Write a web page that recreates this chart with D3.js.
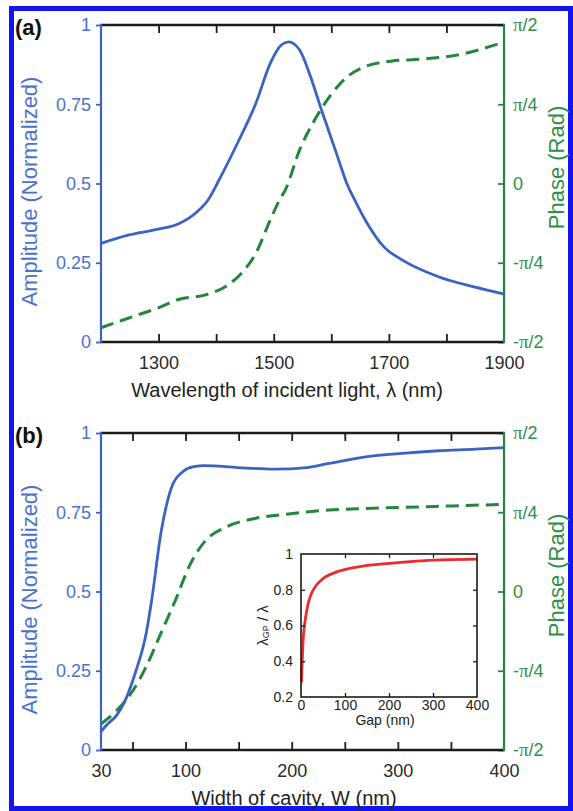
<!DOCTYPE html>
<html><head><meta charset="utf-8">
<script src="https://cdn.jsdelivr.net/npm/d3@7"></script>
<style>
html,body{margin:0;padding:0;background:#fff;}
svg{display:block;font-family:"Liberation Sans",Arial,Helvetica,sans-serif;}
</style></head>
<body>
<svg id="c" width="573" height="811"></svg>
<script>
// ---------- data ----------
// Panel (a): amplitude and phase (in units of pi) vs wavelength (nm)
const lambdaA = [1200,1247,1297,1336,1367,1386,1405,1437,1469,1494,1513,1526,1545,1564,1583,1609,1627,1643,1659,1691,1723,1786,1850,1900];
const ampA    = [0.311,0.337,0.355,0.374,0.411,0.448,0.511,0.627,0.753,0.879,0.937,0.947,0.921,0.837,0.732,0.595,0.50,0.44,0.385,0.301,0.259,0.206,0.173,0.151];
const lambdaPhA = [1200,1247,1297,1336,1380,1418,1444,1469,1494,1510,1520,1545,1571,1597,1628,1659,1704,1755,1818,1900];
const phaseA    = [-0.455,-0.425,-0.394,-0.365,-0.352,-0.323,-0.283,-0.22,-0.115,-0.052,-0.021,0.106,0.2,0.274,0.337,0.369,0.386,0.392,0.405,0.446];

// Panel (b): amplitude and phase (units of pi) vs cavity width W (nm)
const widthB = [30,33.6,40,44.8,52.5,62.9,68.1,76.7,87.1,97.3,107.7,118,149,183.4,214.5,235.2,269.7,304,338.6,373,400];
const ampB   = [0.058,0.079,0.11,0.15,0.242,0.368,0.473,0.683,0.831,0.878,0.894,0.897,0.891,0.886,0.891,0.904,0.925,0.936,0.944,0.949,0.954];
const widthPhB = [30,40.2,49.1,62.9,76.7,90.5,104.2,118.1,138.7,166.3,200.8,235.3,269.7,321.1,400];
const phaseB   = [-0.418,-0.374,-0.321,-0.237,-0.132,-0.027,0.085,0.158,0.204,0.231,0.246,0.257,0.262,0.267,0.275];

// Inset: lambda_GP / lambda vs gap (nm)
const gapInset   = [1,5,9,17,28,47,81,134,202,263,400];
const ratioInset = [0.28,0.525,0.62,0.73,0.80,0.856,0.90,0.93,0.948,0.96,0.971];

// ticks
const xTicksA  = [1300,1400,1500,1600,1700,1800];
const xLabelsA = [1300,1500,1700,1900];
const ampTicks = [0,0.25,0.5,0.75,1];
const ampLabels = ["0","0.25","0.5","0.75","1"];
const phTicks = [-0.5,-0.25,0,0.25,0.5];
const phLabels = ["-π/2","-π/4","0","π/4","π/2"];
const xTicksB  = [50,100,150,200,250,300,350];
const xLabelsB = [30,100,200,300,400];
const insetXTicks = [100,200,300];
const insetXLabels = [0,100,200,300,400];
const insetYTicks = [0.4,0.6,0.8];
const insetYLabels = [0.2,0.4,0.6,0.8,1];

// ---------- style ----------
const BLUE = "#3b63c3", BLUE_T = "#4a72cc", GREEN = "#23863c", GREEN_T = "#2f8f48", DARK = "#1e1a1a", RED = "#ee2a2a";
const FONT_T = 18;

const svg = d3.select("#c");
svg.append("rect").attr("x",0).attr("y",0).attr("width",573).attr("height",811).attr("fill","#fff");
svg.append("rect").attr("x",11.5).attr("y",8.5).attr("width",559).attr("height",800)
   .attr("fill","none").attr("stroke","#1414f0").attr("stroke-width",5);

function piLabels(sel, labels){
  sel.selectAll(".tick text").each(function(d,i){
    const t = d3.select(this); const s = labels[i]; t.text(null);
    const parts = s.split("π");
    parts.forEach((p,j)=>{
      if(j>0) t.append("tspan").attr("font-family","'Liberation Serif','Times New Roman',serif").attr("font-size",FONT_T+1).text("π");
      if(p) t.append("tspan").text(p);
    });
  });
}

function panel(o){
  const {L,R,T,B,xDomain,xRange,xTicks,xLabels,xFmt,ampX,ampY,phX,phY,tag,xTitle,xTitleX} = o;
  const g = svg.append("g");
  const x = d3.scaleLinear().domain(xDomain).range(xRange);
  const y = d3.scaleLinear().domain([0,1]).range([B,T]);
  const yp = d3.scaleLinear().domain([-0.5,0.5]).range([B,T]);

  // curves
  g.append("path").datum(phX.map((v,i)=>[v,phY[i]]))
    .attr("fill","none").attr("stroke",GREEN).attr("stroke-width",3).attr("stroke-dasharray","13,7")
    .attr("d", d3.line().x(d=>x(d[0])).y(d=>yp(d[1])).curve(d3.curveMonotoneX));
  g.append("path").datum(ampX.map((v,i)=>[v,ampY[i]]))
    .attr("fill","none").attr("stroke",BLUE).attr("stroke-width",2.8)
    .attr("d", d3.line().x(d=>x(d[0])).y(d=>y(d[1])).curve(d3.curveMonotoneX));

  // x ticks (inward) bottom & top
  const bt = g.append("g").attr("transform",`translate(0,${B})`)
    .call(d3.axisBottom(x).tickValues(xTicks).tickSize(-8).tickFormat(""));
  const tt = g.append("g").attr("transform",`translate(0,${T})`)
    .call(d3.axisTop(x).tickValues(xTicks).tickSize(-8).tickFormat(""));
  [bt,tt].forEach(a=>{a.select(".domain").remove(); a.selectAll("line").attr("stroke",DARK).attr("stroke-width",1.8);});
  // x labels
  const bl = g.append("g").attr("transform",`translate(0,${B})`)
    .call(d3.axisBottom(x).tickValues(xLabels).tickSize(0).tickPadding(14).tickFormat(xFmt));
  bl.select(".domain").remove();
  bl.selectAll("text").attr("font-size",FONT_T).attr("fill","#2a2a2a").attr("font-family","'Liberation Sans',Arial,sans-serif");

  // left axis
  const la = g.append("g").attr("transform",`translate(${L},0)`)
    .call(d3.axisLeft(y).tickValues(ampTicks).tickSize(5).tickPadding(5).tickFormat((d,i)=>ampLabels[i]));
  la.select(".domain").remove();
  la.selectAll("line").attr("stroke",BLUE).attr("stroke-width",1.8);
  la.selectAll("text").attr("font-size",FONT_T).attr("fill",BLUE_T).attr("font-family","'Liberation Sans',Arial,sans-serif");

  // right axis
  const ra = g.append("g").attr("transform",`translate(${R},0)`)
    .call(d3.axisRight(yp).tickValues(phTicks).tickSize(-6).tickPadding(9).tickFormat((d,i)=>phLabels[i]));
  ra.select(".domain").remove();
  ra.selectAll("line").attr("stroke",GREEN).attr("stroke-width",1.8);
  ra.selectAll("text").attr("font-size",FONT_T).attr("fill",GREEN_T).attr("font-family","'Liberation Sans',Arial,sans-serif");
  piLabels(ra, phLabels);

  // frame
  g.append("line").attr("x1",L).attr("x2",R).attr("y1",T).attr("y2",T).attr("stroke",DARK).attr("stroke-width",2.6);
  g.append("line").attr("x1",L).attr("x2",R).attr("y1",B).attr("y2",B).attr("stroke",DARK).attr("stroke-width",2.6);
  g.append("line").attr("x1",L).attr("x2",L).attr("y1",T-1.3).attr("y2",B+1.3).attr("stroke",BLUE).attr("stroke-width",2.2);
  g.append("line").attr("x1",R).attr("x2",R).attr("y1",T-1.3).attr("y2",B+1.3).attr("stroke",GREEN).attr("stroke-width",2.2);

  // titles
  const cy = (T+B)/2;
  g.append("text").attr("transform",`translate(29,${cy+8}) rotate(-90)`).attr("text-anchor","middle")
    .attr("dominant-baseline","central").attr("font-size",22).attr("fill",BLUE_T).text("Amplitude (Normalized)");
  g.append("text").attr("transform",`translate(556,${cy-16}) rotate(-90)`).attr("text-anchor","middle")
    .attr("dominant-baseline","central").attr("font-size",22).attr("fill",GREEN_T).text("Phase (Rad)");
  g.append("text").attr("x",xTitleX).attr("y",B+48).attr("text-anchor","middle").attr("dominant-baseline","central")
    .attr("font-size",20).attr("fill","#222").text(xTitle);
  g.append("text").attr("x",15).attr("y",T+2).attr("dominant-baseline","central")
    .attr("font-size",22).attr("font-weight","bold").attr("fill","#111").text(tag);
  return {x,y,yp};
}

panel({L:101,R:504,T:25,B:342,xDomain:[1200,1900],xRange:[101,504],xTicks:xTicksA,xLabels:xLabelsA,xFmt:d3.format("d"),
  ampX:lambdaA,ampY:ampA,phX:lambdaPhA,phY:phaseA,tag:"(a)",xTitle:"Wavelength of incident light, λ (nm)",xTitleX:287});

// panel (b): the printed W axis is compressed between its first two ticks (30 -> 50)
panel({L:101,R:504,T:433,B:750,xDomain:[30,50,400],xRange:[101,132.5,504],xTicks:xTicksB,xLabels:xLabelsB,xFmt:d3.format("d"),
  ampX:widthB,ampY:ampB,phX:widthPhB,phY:phaseB,tag:"(b)",xTitle:"Width of cavity, W (nm)",xTitleX:294});

// ---------- inset ----------
(function(){
  const L=301,R=477,T=554,B=697;
  const g = svg.append("g");
  const x = d3.scaleLinear().domain([0,400]).range([L,R]);
  const y = d3.scaleLinear().domain([0.2,1]).range([B,T]);
  g.append("rect").attr("x",L).attr("y",T).attr("width",R-L).attr("height",B-T).attr("fill","#fff");
  g.append("path").datum(gapInset.map((v,i)=>[v,ratioInset[i]]))
    .attr("fill","none").attr("stroke",RED).attr("stroke-width",2.8)
    .attr("d", d3.line().x(d=>x(d[0])).y(d=>y(d[1])).curve(d3.curveMonotoneX));
  const ax = [
    g.append("g").attr("transform",`translate(0,${B})`).call(d3.axisBottom(x).tickValues(insetXTicks).tickSize(-4).tickFormat("")),
    g.append("g").attr("transform",`translate(0,${T})`).call(d3.axisTop(x).tickValues(insetXTicks).tickSize(-4).tickFormat("")),
    g.append("g").attr("transform",`translate(${L},0)`).call(d3.axisLeft(y).tickValues(insetYTicks).tickSize(-4).tickFormat("")),
    g.append("g").attr("transform",`translate(${R},0)`).call(d3.axisRight(y).tickValues(insetYTicks).tickSize(-4).tickFormat(""))
  ];
  ax.forEach(a=>{a.select(".domain").remove(); a.selectAll("line").attr("stroke",DARK).attr("stroke-width",1.3);});
  const xl = g.append("g").attr("transform",`translate(0,${B})`)
    .call(d3.axisBottom(x).tickValues(insetXLabels).tickSize(0).tickPadding(3).tickFormat(d3.format("d")));
  const yl = g.append("g").attr("transform",`translate(${L},0)`)
    .call(d3.axisLeft(y).tickValues(insetYLabels).tickSize(0).tickPadding(8).tickFormat(d=>d===1?"1":d3.format(".1f")(d)));
  [xl,yl].forEach(a=>{a.select(".domain").remove(); a.selectAll("text").attr("font-size",14).attr("fill","#222").attr("font-family","'Liberation Sans',Arial,sans-serif");});
  g.append("rect").attr("x",L).attr("y",T).attr("width",R-L).attr("height",B-T).attr("fill","none").attr("stroke",DARK).attr("stroke-width",1.6);
  g.append("text").attr("x",(L+R)/2-4).attr("y",B+23).attr("text-anchor","middle").attr("dominant-baseline","central")
    .attr("font-size",14).attr("fill","#222").text("Gap (nm)");
  const yt = g.append("text").attr("transform",`translate(262,${(T+B)/2}) rotate(-90)`).attr("text-anchor","middle")
    .attr("dominant-baseline","central").attr("font-size",15).attr("fill","#222");
  yt.append("tspan").text("λ");
  yt.append("tspan").attr("font-size",9).attr("dy",4).text("GP");
  yt.append("tspan").attr("dy",-4).text(" / λ");
})();
</script>
</body></html>
